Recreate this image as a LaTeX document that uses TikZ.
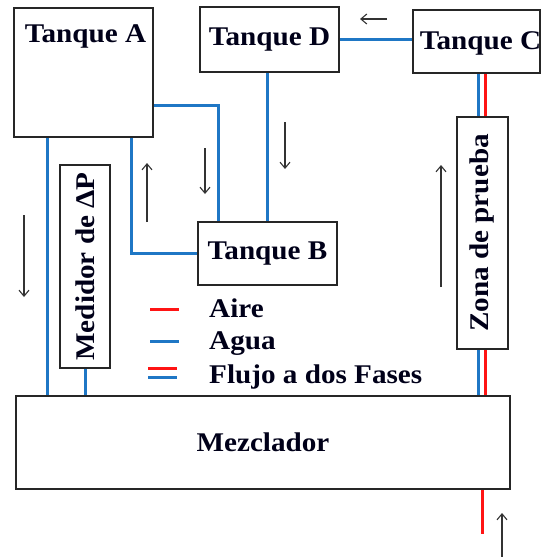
\documentclass[tikz,border=0pt]{standalone}
\usepackage{fontspec}
\setmainfont{Liberation Serif}
\usetikzlibrary{arrows.meta,calc}
\definecolor{pipeblue}{RGB}{31,119,197}
\definecolor{pipered}{RGB}{255,20,20}
\newcommand{\widetxt}[1]{\scalebox{1.08}[1.0]{#1}}
\tikzset{
  tank/.style={draw=black!85, line width=2.6pt, fill=white, inner sep=0pt},
  lbl/.style={font=\fontsize{27}{30}\selectfont\bfseries, text=black!90!blue, inner sep=0pt},
  water/.style={draw=pipeblue, line width=3pt},
  air/.style={draw=pipered, line width=3pt},
  flowarrow/.style={draw=black!80, line width=1.1pt, -{Straight Barb[length=6pt,width=10pt]}},
}
\begin{document}
\begin{tikzpicture}[x=1pt,y=-1pt]
\useasboundingbox (0,0) rectangle (542,557);
% boxes
\node[tank, minimum width=139pt, minimum height=129pt] (A) at (83.5,72.5) {};
\node[lbl, anchor=north] (Alab) at ([xshift=2pt,yshift=-18pt]A.north) {\widetxt{Tanque A}};
\node[tank, lbl, minimum width=139pt, minimum height=65pt] (D) at (269.5,39.5) {\widetxt{Tanque D}};
\node[tank, minimum width=127pt, minimum height=63pt] (C) at (476.5,41.5) {};
\node[lbl] (Clab) at ([xshift=4pt,yshift=-2pt]C.center) {\widetxt{Tanque C}};
\node[tank, lbl, minimum width=139pt, minimum height=63pt] (B) at (267.5,253.5) {\widetxt{Tanque B}};
\node[tank, lbl, minimum width=50pt, minimum height=203pt] (Med) at (85,266.5) {\rotatebox{90}{\widetxt{Medidor de ΔP}}};
\node[tank, lbl, minimum width=51pt, minimum height=232pt] (Z) at (482.5,233) {\rotatebox{90}{\widetxt{Zona de prueba}}};
\node[tank, lbl, minimum width=494pt, minimum height=93pt] (M) at (263,442.5) {\widetxt{Mezclador}};
% water pipes
\draw[water] (D.east) -- (D.east -| C.west);
\draw[water] ([yshift=-32.5pt]A.east) -| ([xshift=22pt]B.north west);
\draw[water] (D.south -| B.north) -- (B.north);
\draw[water] ([xshift=47.5pt]A.south) |- (B.west);
\coordinate (a1) at ([xshift=-36.5pt]A.south);
\draw[water] (a1) -- (a1 |- M.north);
\draw[water] (Med.south) -- (Med.south |- M.north);
% two-phase pipes
\coordinate (zb) at ([xshift=-4.5pt]Z.north);
\coordinate (zr) at ([xshift=2.5pt]Z.north);
\draw[water] (zb |- C.south) -- (zb);
\draw[air] (zr |- C.south) -- (zr);
\coordinate (zb2) at ([xshift=-4.5pt]Z.south);
\coordinate (zr2) at ([xshift=2.5pt]Z.south);
\draw[water] (zb2) -- (zb2 |- M.north);
\draw[air] (zr2) -- (zr2 |- M.north);
\coordinate (inlet) at (482,534);
\draw[air] (inlet |- M.south) -- (inlet);
% flow arrows
\coordinate (f1s) at (387,19); \coordinate (f1e) at (360,19);
\draw[flowarrow] (f1s) -- (f1e);
\coordinate (f2s) at (285,122); \coordinate (f2e) at (285,169);
\draw[flowarrow] (f2s) -- (f2e);
\coordinate (f3s) at (441,287); \coordinate (f3e) at (441,165);
\draw[flowarrow] (f3s) -- (f3e);
\coordinate (f4s) at (147,222); \coordinate (f4e) at (147,163);
\draw[flowarrow] (f4s) -- (f4e);
\coordinate (f5s) at (205,148); \coordinate (f5e) at (205,194);
\draw[flowarrow] (f5s) -- (f5e);
\coordinate (f6s) at (24,215); \coordinate (f6e) at (24,297);
\draw[flowarrow] (f6s) -- (f6e);
\coordinate (f7s) at (502,557); \coordinate (f7e) at (502,513);
\draw[flowarrow] (f7s) -- (f7e);
% legend
\draw[air] (150,309) -- (179,309);
\draw[water] (150,341) -- (179,341);
\draw[air] (148,368) -- (177,368);
\draw[water] (148,377) -- (177,377);
\node[lbl, anchor=base west] (lair) at (209,317) {\widetxt{Aire}};
\node[lbl, anchor=base west] (lagua) at (209,349) {\widetxt{Agua}};
\node[lbl, anchor=base west] (lflujo) at (209,383) {\widetxt{Flujo a dos Fases}};
\end{tikzpicture}
\end{document}
